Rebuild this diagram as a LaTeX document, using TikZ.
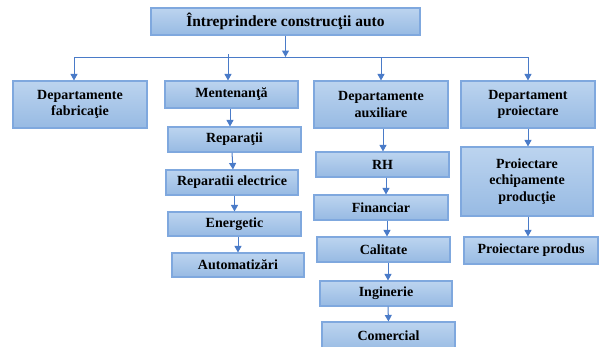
\documentclass[tikz,border=0pt]{standalone}
\usepackage{fontspec}
\setmainfont{Liberation Serif}
\usetikzlibrary{arrows.meta,shadings}
\definecolor{boxtop}{HTML}{BCD4EF}
\definecolor{boxbot}{HTML}{97BAE3}
\definecolor{boxline}{HTML}{7FA8DE}
\definecolor{arrc}{HTML}{4A7BC8}
\tikzset{
  box/.style={draw=boxline, line width=1.1pt, top color=boxtop, bottom color=boxbot,
    font=\fontsize{14}{16.5}\selectfont\bfseries, align=center, inner sep=1pt},
  arr/.style={draw=arrc, line width=1pt, -{Triangle[width=7pt,length=6.5pt]}},
  ln/.style={draw=arrc, line width=1pt}
}
\begin{document}
\begin{tikzpicture}[x=1pt,y=-1pt]
\path[use as bounding box, clip] (0,0) rectangle (603,346);
\fill[white] (0,0) rectangle (603,346);
% level 0
\node[box, minimum width=269pt, minimum height=27pt, font=\fontsize{15.5}{18}\selectfont\bfseries] (top) at (285.5,21.5) {Întreprindere construcţii auto};
% level 1
\node[box, minimum width=134pt, minimum height=47pt] (fab) at (80,104.5) {Departamente\\fabricaţie};
\node[box, minimum width=133pt, minimum height=27pt] (men) at (231.5,94.5) {Mentenanţă};
\node[box, minimum width=134pt, minimum height=47pt] (aux) at (381,104.5) {Departamente\\auxiliare};
\node[box, minimum width=134pt, minimum height=47pt] (pro) at (528,104.5) {Departament\\proiectare};
% Mentenanta children
\node[box, minimum width=133pt, minimum height=25pt] (rep) at (234.5,139.5) {Reparaţii};
\node[box, minimum width=132pt, minimum height=25pt] (repe) at (232,182.5) {Reparatii electrice};
\node[box, minimum width=133pt, minimum height=24pt] (ene) at (234.5,224) {Energetic};
\node[box, minimum width=132pt, minimum height=24pt] (aut) at (238,265) {Automatizări};
% Auxiliare children
\node[box, minimum width=133pt, minimum height=25pt] (rh) at (382.5,164.5) {RH};
\node[box, minimum width=134pt, minimum height=25pt] (fin) at (381,207.5) {Financiar};
\node[box, minimum width=133pt, minimum height=25pt] (cal) at (383.5,249.5) {Calitate};
\node[box, minimum width=132pt, minimum height=25pt] (ing) at (386,293.5) {Inginerie};
\node[box, minimum width=133pt, minimum height=30pt] (com) at (388.5,337) {\raisebox{3pt}{Comercial}};
% Proiectare children
\node[box, minimum width=132pt, minimum height=69pt] (pe) at (527,181.5) {Proiectare\\echipamente\\producţie};
\node[box, minimum width=134pt, minimum height=27pt] (pp) at (531,250.5) {Proiectare produs};
% bus
\coordinate (bus) at (285.5,57);
\coordinate (b1) at (74,57);
\coordinate (b2) at (228,57);
\coordinate (b3) at (381,57);
\coordinate (b4) at (528,57);
\draw[arr] (top.south) -- (bus);
\draw[ln] (b1) -- (b4);
\draw[arr] (b1) -- (b1 |- fab.north);
\draw[arr] ([yshift=3pt]b2) -- (b2 |- men.north);
\draw[arr] (b3) -- (b3 |- aux.north);
\draw[arr] (b4) -- (b4 |- pro.north);
% chains
\draw[arr] ([xshift=-1.5pt]men.south) -- ([xshift=-4.5pt]rep.north);
\draw[arr] (repe.north |- rep.south) -- ([xshift=1pt]repe.north);
\draw[arr] (ene.north |- repe.south) -- (ene.north);
\draw[arr] (aut.north |- ene.south) -- (aut.north);
\draw[arr] ([xshift=2pt]aux.south) -- ([xshift=0.5pt]rh.north);
\draw[arr] ([xshift=3.5pt]rh.south) -- ([xshift=5pt]fin.north);
\draw[arr] ([xshift=6pt]fin.south) -- ([xshift=3.5pt]cal.north);
\draw[arr] ([xshift=4.5pt]cal.south) -- ([xshift=2pt]ing.north);
\draw[arr] ([xshift=2pt]ing.south) -- (com.north);
\draw[arr] (pro.south) -- (pro.south |- pe.north);
\draw[arr] ([xshift=1pt]pe.south) -- ([xshift=1pt]pe.south |- pp.north);
\end{tikzpicture}
\end{document}
